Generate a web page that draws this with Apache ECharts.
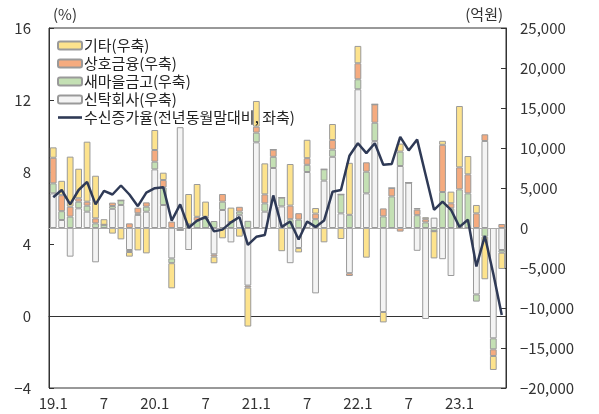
<!DOCTYPE html>
<html><head><meta charset="utf-8">
<script src="https://cdn.jsdelivr.net/npm/echarts@6/dist/echarts.min.js"></script>
<style>html,body{margin:0;padding:0;background:#fff}#c{width:599px;height:414px}</style>
</head><body><div id="c"></div>
<script>
const categories = [
 '19.1','19.2','19.3','19.4','19.5','19.6','19.7','19.8','19.9','19.10','19.11','19.12',
 '20.1','20.2','20.3','20.4','20.5','20.6','20.7','20.8','20.9','20.10','20.11','20.12',
 '21.1','21.2','21.3','21.4','21.5','21.6','21.7','21.8','21.9','21.10','21.11','21.12',
 '22.1','22.2','22.3','22.4','22.5','22.6','22.7','22.8','22.9','22.10','22.11','22.12',
 '23.1','23.2','23.3','23.4','23.5','23.6'];
const etc = [1300,1800,6250,3700,7500,5330,700,-700,-1420,-580,-2800,-3170,
 2500,920,-3140,0,3800,4100,1900,-830,-1290,1800,-1080,-4870,
 3210,3875,0,-2900,5200,-550,2300,700,-1790,2000,-1375,6500,
 2170,-3710,0,-1300,0,1000,0,200,250,-3400,500,1460,
 7670,2290,1050,-5330,-1750,-2040];
const mutual = [3200,2000,1250,420,500,625,0,420,0,580,700,540,
 1460,920,800,0,0,500,200,-290,960,0,600,-250,
 750,1125,900,0,1700,800,830,700,0,1200,0,-350,
 2000,1170,2300,1000,1050,-450,0,700,400,0,5900,625,
 2750,2375,1830,830,-830,500];
const saemaul = [1250,1100,1420,830,750,580,400,350,580,-250,200,625,
 960,2200,-600,-250,450,900,1200,875,1040,750,400,900,
 1210,1040,1400,1100,1100,1050,900,1100,1420,900,2375,1650,
 1250,2710,2300,1450,3950,1800,0,1600,700,-400,4500,2460,
 4830,4330,-900,-1080,-1375,-330];
const trust = [4330,1000,-3580,2460,2040,-4290,0,2400,2880,-2750,1640,2040,
 7330,2875,-3800,12600,-2750,0,0,-3290,2250,-1800,1650,-7200,
 10710,2040,7500,2700,-4400,-2500,7000,-8170,5920,8900,1830,-5650,
 17340,4330,10860,-10500,0,7750,5670,-2850,-11375,1290,-3900,-6000,
 0,0,-8300,10880,-13790,-2750];
const growth = [6.6,7.0,6.2,7.0,7.45,6.2,6.95,6.75,7.25,6.75,6.1,6.85,
 7.1,7.15,5.3,6.2,4.9,5.3,5.5,4.7,4.8,5.2,5.5,3.95,
 4.4,4.5,6.7,4.95,5.25,4.25,5.25,4.95,5.3,6.9,7.0,8.9,
 9.6,9.05,9.6,8.4,8.45,9.95,9.2,9.8,7.85,5.9,6.35,5.9,
 4.95,5.35,2.75,4.45,2.35,0.05];
const names = ['기타(우축)','상호금융(우축)','새마을금고(우축)','신탁회사(우축)','수신증가율(전년동월말대비, 좌축)'];

const FONT = '"Noto Sans CJK KR", "Liberation Sans", sans-serif';
const minus = s => String(s).replace('-', '−');
const border = '#9a9a9a';
function barSeries(name, data, color) {
  return {name, type:'bar', stack:'s', yAxisIndex:1, data, barWidth:'80%',
    itemStyle:{color, borderColor:border, borderWidth:1}};
}
const chart = echarts.init(document.getElementById('c'), null, {renderer:'canvas'});
const s4 = barSeries(names[3], trust, '#f4f4f4');
s4.markLine = {silent:true, symbol:'none', label:{show:false},
  lineStyle:{color:'#aaa', type:'solid', width:1}, data:[{yAxis:0}]};
chart.setOption({
  animation:false,
  textStyle:{fontFamily:FONT},
  grid:{left:49, right:93, top:28, bottom:26, show:true, borderColor:'#333', borderWidth:1},
  legend:{orient:'vertical', left:52, top:33, itemGap:3, itemWidth:24, itemHeight:8,
    data:[names[0], names[1], names[2], names[3],
      {name:names[4], icon:'path://M0,0L24,0L24,2.6L0,2.6Z', itemStyle:{color:'#2f3a56', borderWidth:0}}],
    textStyle:{fontSize:15, color:'#222', fontFamily:FONT, padding:[0,0,0,-3]}},
  graphic:[
    {type:'text', left:53, top:7, style:{text:'(%)', fontSize:15, fill:'#333', fontFamily:FONT}},
    {type:'text', right:96, top:7, style:{text:'(억원)', fontSize:15, fill:'#333', fontFamily:FONT}}
  ],
  xAxis:{type:'category', data:categories,
    axisLine:{lineStyle:{color:'#333'}}, axisTick:{show:false},
    axisLabel:{interval:5, fontSize:15, color:'#333', margin:8,
      formatter:v => v.split('.')[1]==='1' ? v : v.split('.')[1]}},
  yAxis:[
    {type:'value', min:-4, max:16, interval:4, splitLine:{show:false},
      axisLine:{show:true, lineStyle:{color:'#333'}},
      axisTick:{show:true, inside:true, length:5, lineStyle:{color:'#333'}},
      axisLabel:{fontSize:15, color:'#333', margin:18, formatter:v => minus(v)}},
    {type:'value', min:-20000, max:25000, interval:5000, splitLine:{show:false},
      axisLine:{show:true, lineStyle:{color:'#333'}},
      axisTick:{show:true, inside:true, length:5, lineStyle:{color:'#333'}},
      axisLabel:{fontSize:15, color:'#333', margin:14,
        formatter:v => (v<0?'−':'') + Math.abs(v).toLocaleString('en-US')}}
  ],
  series:[
    s4,
    barSeries(names[2], saemaul, '#c4e0b4'),
    barSeries(names[1], mutual, '#f5ab7f'),
    barSeries(names[0], etc, '#fde38d'),
    {name:names[4], type:'line', yAxisIndex:0, data:growth, symbol:'none', z:5,
      lineStyle:{color:'#2f3a56', width:2.5}, itemStyle:{color:'#2f3a56'}}
  ]
});
</script></body></html>
